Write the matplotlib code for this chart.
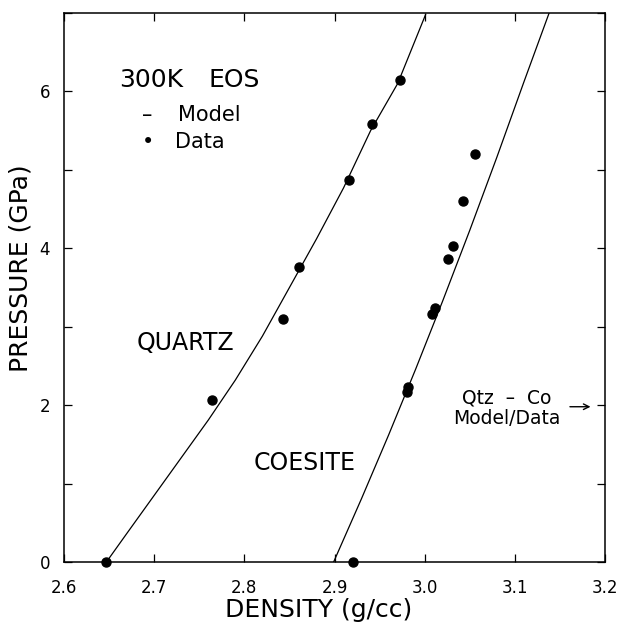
import matplotlib
matplotlib.use('Agg')
import matplotlib.pyplot as plt
from matplotlib.ticker import MultipleLocator

# model curves (density g/cc, pressure GPa)
quartz_rho = [2.647, 2.670, 2.700, 2.730, 2.760, 2.790, 2.820, 2.850, 2.880, 2.910, 2.940, 2.970, 3.001]
quartz_p = [0.0, 0.37, 0.85, 1.33, 1.81, 2.32, 2.88, 3.50, 4.12, 4.77, 5.50, 6.10, 6.98]
coesite_rho = [2.899, 2.930, 2.960, 2.990, 3.020, 3.050, 3.080, 3.110, 3.138]
coesite_p = [0.0, 0.81, 1.62, 2.46, 3.33, 4.23, 5.16, 6.12, 7.0]

# measured points
quartz_data_rho = [2.646, 2.764, 2.843, 2.861, 2.916, 2.942, 2.973]
quartz_data_p = [0.0, 2.07, 3.10, 3.76, 4.87, 5.59, 6.14]
coesite_data_rho = [2.920, 2.980, 2.982, 3.008, 3.011, 3.026, 3.031, 3.042, 3.056]
coesite_data_p = [0.0, 2.17, 2.23, 3.16, 3.24, 3.87, 4.03, 4.60, 5.20]

fig = plt.figure(figsize=(6.18, 6.26), dpi=100)
ax = fig.add_axes([0.1036, 0.1022, 0.8754, 0.8770])

ax.plot(quartz_rho, quartz_p, color='black', lw=0.9)
ax.plot(coesite_rho, coesite_p, color='black', lw=0.9)
ax.plot(quartz_data_rho, quartz_data_p, 'o', color='black', ms=6.5, clip_on=False)
ax.plot(coesite_data_rho, coesite_data_p, 'o', color='black', ms=6.5, clip_on=False)

ax.set_xlim(2.6, 3.2)
ax.set_ylim(0, 7)
ax.xaxis.set_major_locator(MultipleLocator(0.1))
ax.yaxis.set_major_locator(MultipleLocator(2))
ax.yaxis.set_minor_locator(MultipleLocator(1))
ax.set_xticklabels([f'{v:.1f}' for v in ax.get_xticks()])
ax.tick_params(which='both', direction='in', top=True, right=True, length=6, width=0.9,
               labelsize=12, pad=10)
ax.tick_params(axis='x', pad=12)
for s in ax.spines.values():
    s.set_linewidth(1.1)

ax.set_xlabel('DENSITY (g/cc)', fontsize=18)
ax.xaxis.set_label_coords(0.47, -0.066)
ax.set_ylabel('PRESSURE (GPa)', fontsize=18)
ax.yaxis.set_label_coords(-0.058, 0.535)

ax.text(2.661, 6.14, '300K', fontsize=18, va='center', ha='left')
ax.text(2.760, 6.14, 'EOS', fontsize=18, va='center', ha='left')
ax.text(2.686, 5.70, '–', fontsize=15, va='center', ha='left')
ax.text(2.726, 5.70, 'Model', fontsize=15, va='center', ha='left')
ax.text(2.686, 5.35, '•', fontsize=15, va='center', ha='left')
ax.text(2.723, 5.35, 'Data', fontsize=15, va='center', ha='left')
ax.text(2.681, 2.79, 'QUARTZ', fontsize=17, va='center', ha='left')
ax.text(2.810, 1.26, 'COESITE', fontsize=17, va='center', ha='left')
ax.text(3.091, 2.09, 'Qtz  –  Co', fontsize=13.5, va='center', ha='center')
ax.text(3.091, 1.83, 'Model/Data', fontsize=13.5, va='center', ha='center')
ax.annotate('', xy=(3.187, 1.98), xytext=(3.158, 1.98),
            arrowprops=dict(arrowstyle='->', color='black', lw=1.0))

fig.savefig('out.png', dpi=100)
